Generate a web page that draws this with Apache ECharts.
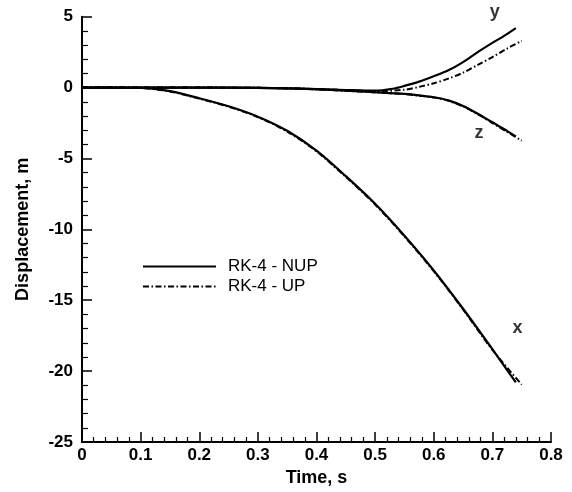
<!DOCTYPE html>
<html>
<head>
<meta charset="utf-8">
<script src="https://cdn.jsdelivr.net/npm/echarts@6/dist/echarts.min.js"></script>
<style>
html,body{margin:0;padding:0;background:#fff;}
#c{width:572px;height:492px;}
</style>
</head>
<body>
<div id="c"></div>
<script>
// ---- data (time in s, displacement in m) ----
const xNUP = [[0,0],[0.05,0],[0.1,-0.02],[0.15,-0.25],[0.2,-0.75],[0.25,-1.32],[0.3,-2.05],[0.35,-3.05],[0.4,-4.45],[0.45,-6.25],[0.5,-8.2],[0.55,-10.45],[0.6,-12.9],[0.65,-15.6],[0.7,-18.45],[0.74,-20.8]];
const xUP  = [[0,0],[0.05,0],[0.1,-0.03],[0.15,-0.27],[0.2,-0.78],[0.25,-1.35],[0.3,-2.08],[0.35,-3.1],[0.4,-4.5],[0.45,-6.3],[0.5,-8.25],[0.55,-10.5],[0.6,-12.95],[0.65,-15.65],[0.7,-18.5],[0.75,-20.95]];
const yNUP = [[0,0],[0.1,0],[0.2,0],[0.3,-0.02],[0.35,-0.05],[0.4,-0.1],[0.45,-0.17],[0.5,-0.22],[0.53,-0.08],[0.55,0.12],[0.575,0.42],[0.6,0.8],[0.625,1.22],[0.65,1.8],[0.675,2.5],[0.7,3.15],[0.72,3.65],[0.74,4.2]];
const yUP  = [[0,0],[0.1,0],[0.2,0],[0.3,-0.02],[0.35,-0.05],[0.4,-0.1],[0.45,-0.18],[0.5,-0.26],[0.55,-0.15],[0.575,0.05],[0.6,0.3],[0.625,0.63],[0.65,1.05],[0.675,1.6],[0.7,2.15],[0.725,2.75],[0.75,3.3]];
const zNUP = [[0,0],[0.1,0],[0.2,0],[0.3,-0.02],[0.35,-0.05],[0.4,-0.12],[0.45,-0.22],[0.5,-0.33],[0.55,-0.45],[0.575,-0.55],[0.6,-0.68],[0.625,-0.9],[0.65,-1.3],[0.675,-1.85],[0.7,-2.45],[0.725,-3.05],[0.74,-3.45]];
const zUP  = [[0,0],[0.1,0],[0.2,0],[0.3,-0.02],[0.35,-0.05],[0.4,-0.12],[0.45,-0.23],[0.5,-0.34],[0.55,-0.46],[0.575,-0.57],[0.6,-0.7],[0.625,-0.93],[0.65,-1.33],[0.675,-1.88],[0.7,-2.5],[0.725,-3.12],[0.75,-3.75]];
const curveLabels = [[0.704,5.33,'y'],[0.677,-3.19,'z'],[0.743,-16.93,'x']];
const xTicks = [0,0.1,0.2,0.3,0.4,0.5,0.6,0.7,0.8];
const yTicks = [-25,-20,-15,-10,-5,0,5];
const names = ['RK-4 - NUP','RK-4 - UP'];

const FONT = '"Liberation Sans", Arial, sans-serif';
const solid = {color:'#000', width:2.2, type:'solid'};
const dashdot = {color:'#000', width:2, type:[6,2.5,1.5,2.5]};

function lineSeries(name, data, style){
  return {type:'line', name:name, data:data, symbol:'none', showSymbol:false,
    lineStyle:style, itemStyle:{color:'#000'}, animation:false, smooth:0.3, z:3};
}

const chart = echarts.init(document.getElementById('c'), null, {renderer:'canvas'});
chart.setOption({
  backgroundColor:'#fff',
  animation:false,
  grid:{left:82, right:21, top:16.7, bottom:49.3, containLabel:false},
  legend:{
    data:names, orient:'vertical', left:137, top:253,
    itemWidth:73, itemHeight:14, itemGap:3,
    itemStyle:{opacity:0},
    textStyle:{fontFamily:FONT, fontSize:17, color:'#000', padding:[0,0,0,7]},
    inactiveColor:'#000', selectedMode:false
  },
  xAxis:{
    type:'value', min:0, max:0.8, interval:0.1,
    name:'Time, s', nameLocation:'middle', nameGap:27,
    nameTextStyle:{fontFamily:FONT, fontSize:18, fontWeight:'bold', color:'#000'},
    axisLine:{show:true, onZero:false, lineStyle:{color:'#000', width:2}},
    axisTick:{show:true, inside:true, length:10, lineStyle:{color:'#000', width:1.5}},
    minorTick:{show:true, splitNumber:5, length:5, lineStyle:{color:'#000', width:1.2}},
    splitLine:{show:false},
    axisLabel:{fontFamily:FONT, fontSize:17, fontWeight:'bold', color:'#000', margin:5,
      formatter:function(v){ const i = xTicks.findIndex(t=>Math.abs(t-v)<1e-9); return i>=0 ? String(xTicks[i]) : ''; }}
  },
  yAxis:{
    type:'value', min:-25, max:5, interval:5,
    name:'Displacement, m', nameLocation:'middle', nameGap:50,
    nameTextStyle:{fontFamily:FONT, fontSize:18, fontWeight:'bold', color:'#000'},
    axisLine:{show:true, onZero:false, lineStyle:{color:'#000', width:2}},
    axisTick:{show:true, inside:true, length:10, lineStyle:{color:'#000', width:1.5}},
    minorTick:{show:true, splitNumber:5, length:6, lineStyle:{color:'#000', width:1.2}},
    splitLine:{show:false},
    axisLabel:{fontFamily:FONT, fontSize:17, fontWeight:'bold', color:'#000', margin:9,
      formatter:function(v){ const i = yTicks.findIndex(t=>Math.abs(t-v)<1e-9); return i>=0 ? String(yTicks[i]) : ''; }}
  },
  series:[
    lineSeries(names[0], xNUP, solid),
    lineSeries(names[1], xUP, dashdot),
    lineSeries(names[0], yNUP, solid),
    lineSeries(names[1], yUP, dashdot),
    lineSeries(names[0], zNUP, solid),
    lineSeries(names[1], zUP, dashdot),
    {type:'scatter', name:'labels', data:curveLabels.map(d=>({value:[d[0],d[1]], name:d[2]})),
      symbolSize:1, itemStyle:{color:'rgba(0,0,0,0)'}, clip:false, silent:true,
      label:{show:true, position:'inside', formatter:p=>p.name,
        fontFamily:FONT, fontSize:18, fontWeight:'bold', color:'#000'}}
  ]
});
</script>
</body>
</html>
